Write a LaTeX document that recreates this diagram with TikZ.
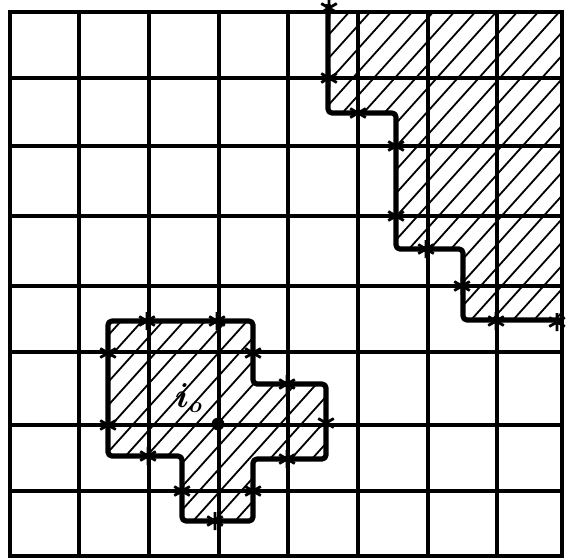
\documentclass[tikz,border=0pt]{standalone}
\begin{document}
\begin{tikzpicture}[x=0.5pt,y=-0.5pt,
  gridline/.style={line width=1.6pt,line cap=rect},
  boundary/.style={line width=2.6pt,line join=round,rounded corners=2pt},
  hatchline/.style={line width=0.9pt},
  labeltext/.style={font=\fontsize{16}{18}\selectfont\boldmath},
  asterisk/.pic={\draw[line width=1.4pt] (90:9) -- (270:9) (30:9) -- (210:9) (150:9) -- (330:9);}
]
\useasboundingbox (0,0) rectangle (566,558);
% hatching, top-right region
\begin{scope}
  \clip (326,12) -- (326,113) -- (396,113) -- (396,249) -- (463,249) -- (463,320) -- (562,320) -- (562,12) -- cycle;
  \foreach \a in {-600,-579,...,620} \draw[hatchline] (\a,600) -- (\a+540,0);
\end{scope}
% hatching, bottom-left region
\begin{scope}
  \clip (108,321) -- (253,321) -- (253,384) -- (326,384) -- (326,459) -- (253,459) -- (253,521) -- (182,521) -- (182,456) -- (108,456) -- cycle;
  \foreach \a in {-600,-579,...,620} \draw[hatchline] (\a+8,600) -- (\a+548,0);
\end{scope}
% grid
\foreach \y in {12,78,146,216,286,352,425,491,556} \draw[gridline] (10,\y) -- (562,\y);
\foreach \x in {10,79,149,219,288,358,428,497,562} \draw[gridline] (\x,12) -- (\x,556);
% boundaries
\draw[boundary] (328,4) -- (328,113) -- (396,113) -- (396,249) -- (463,249) -- (463,320) -- (562,320);
\draw[boundary] (108,321) -- (253,321) -- (253,384) -- (326,384) -- (326,459) -- (253,459) -- (253,521) -- (182,521) -- (182,456) -- (108,456) -- cycle;
% crossing marks
\foreach \p in {(329,8),(329,78),(358,113),(396,146),(396,216),(426,249),(462,286),(496,321),(557,322),
  (147,321),(217,321),(108,353),(253,353),(108,425),(287,384),(326,423),(287,459),(253,491),(182,491),(215,521),(148,456)}
  \pic at \p {asterisk};
% centre point and label
\fill (218,424) circle (3.2pt);
\node[labeltext] (lbl) at (189,398) {$i_{o}$};
\end{tikzpicture}
\end{document}
